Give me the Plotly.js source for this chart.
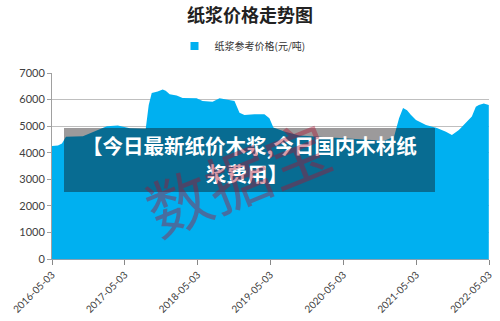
<!DOCTYPE html>
<html>
<head>
<meta charset="utf-8">
<script src="https://cdn.plot.ly/plotly-3.0.1.min.js"></script>
<style>
html,body{margin:0;padding:0;background:#fff;}
#chart{width:500px;height:321px;}
</style>
</head>
<body>
<div id="chart"></div>
<script>
var dates = [
  "2016-05-03","2016-06-02","2016-06-22","2016-07-12","2016-10-05","2016-12-04",
  "2017-02-02","2017-03-29","2017-05-28","2017-08-16","2017-08-31","2017-09-15",
  "2017-10-15","2017-11-09","2017-11-24","2017-12-14","2018-01-18","2018-02-17",
  "2018-04-28","2018-05-28","2018-07-17","2018-08-21","2018-10-10","2018-11-04",
  "2018-11-29","2018-12-24","2019-02-12","2019-04-03","2019-04-28","2019-05-18",
  "2019-07-12","2019-09-25","2020-01-03","2020-04-12","2020-07-21","2020-11-23",
  "2021-01-12","2021-02-06","2021-02-26","2021-03-18","2021-04-07","2021-05-02",
  "2021-06-21","2021-08-15","2021-09-29","2021-10-29","2021-12-03","2022-01-07",
  "2022-02-06","2022-02-26","2022-03-13","2022-04-07","2022-05-02"
];
var prices = [
  4250,4270,4350,4600,4620,4800,
  5000,5020,4920,4900,5800,6250,
  6300,6380,6330,6200,6150,6060,
  6050,5950,5920,6050,6000,5950,
  5500,5420,5450,5450,5300,4950,
  4800,4650,4600,4550,4500,4450,
  4600,5300,5680,5600,5420,5230,
  5040,4930,4790,4670,4855,5110,
  5360,5730,5800,5850,5800
];
var seriesName = "纸浆参考价格(元/吨)";
var chartTitle = "纸浆价格走势图";
var bannerLines = ["【今日最新纸价木浆,今日国内木材纸", "浆费用】"];
var watermark = "数据宝";

var trace = {
  x: dates, y: prices, type: "scatter", mode: "lines",
  name: seriesName, fill: "tozeroy", fillcolor: "#00b0f0",
  line: {width: 0, color: "#00b0f0"}, showlegend: false
};
var legendKey = {
  x: [null], y: [null], type: "scatter", mode: "markers",
  name: seriesName, showlegend: true,
  marker: {symbol: "square", size: 8, color: "#00b0f0"}
};

var layout = {
  width: 500, height: 321,
  margin: {l: 52, r: 11, t: 73, b: 62},
  paper_bgcolor: "#ffffff", plot_bgcolor: "#ffffff",
  font: {family: "Lato, 'Noto Sans CJK SC', sans-serif", color: "#404040"},
  title: {text: chartTitle, x: 0.5, xanchor: "center", y: 0.952, yanchor: "middle",
    font: {family: "'Noto Sans CJK SC', serif", size: 18, color: "#222", weight: "bold"}},
  showlegend: true,
  legend: {orientation: "h", x: 0.5 - 28 / 437, xanchor: "center", y: 1.145, yanchor: "middle",
    font: {family: "'Noto Sans CJK SC', sans-serif", size: 10, color: "#333"},
    itemwidth: 30, bgcolor: "rgba(0,0,0,0)"},
  xaxis: {
    type: "date", range: ["2016-05-03", "2022-05-03"],
    tick0: "2016-05-03", dtick: "M12", tickformat: "%Y-%m-%d",
    tickangle: -45, ticks: "outside", ticklen: 5, tickcolor: "#888",
    showline: true, linecolor: "#8aa0b0", linewidth: 1,
    showgrid: false, zeroline: false,
    tickfont: {size: 10, color: "#404040", family: "Lato, sans-serif"}
  },
  yaxis: {
    range: [0, 7000], dtick: 1000, tick0: 0,
    showgrid: true, gridcolor: "#bfbfbf", gridwidth: 1,
    showline: true, linecolor: "#a0a0a0", linewidth: 1,
    ticks: "outside", ticklen: 4, tickcolor: "#a0a0a0",
    zeroline: false,
    tickfont: {size: 11, color: "#404040", family: "Lato, sans-serif"}
  },
  shapes: [{
    type: "rect", xref: "paper", yref: "paper",
    x0: (64 - 52) / 437, x1: (435 - 52) / 437,
    y0: (259 - 192) / 186, y1: (259 - 128) / 186,
    fillcolor: "rgba(18,14,16,0.42)", line: {width: 0}, layer: "above"
  }],
  annotations: [
    {xref: "paper", yref: "paper", x: (249 - 52) / 437, y: (259 - 145) / 186,
     text: bannerLines[0], showarrow: false, xanchor: "center", yanchor: "middle",
     font: {family: "'Noto Sans CJK SC', sans-serif", size: 20.5, color: "#ffffff", weight: "bold"}},
    {xref: "paper", yref: "paper", x: (247 - 52) / 437, y: (259 - 173) / 186,
     text: bannerLines[1], showarrow: false, xanchor: "center", yanchor: "middle",
     font: {family: "'Noto Sans CJK SC', sans-serif", size: 20.5, color: "#ffffff", weight: "bold"}},
    {xref: "paper", yref: "paper", x: (237 - 52) / 437, y: (259 - 176) / 186,
     text: watermark, showarrow: false, xanchor: "center", yanchor: "middle",
     textangle: -22,
     font: {family: "'Noto Sans CJK SC', sans-serif", size: 64, color: "rgba(170,20,50,0.42)"}}
  ]
};

Plotly.newPlot("chart", [trace, legendKey], layout, {displayModeBar: false, staticPlot: true});
</script>
</body>
</html>
